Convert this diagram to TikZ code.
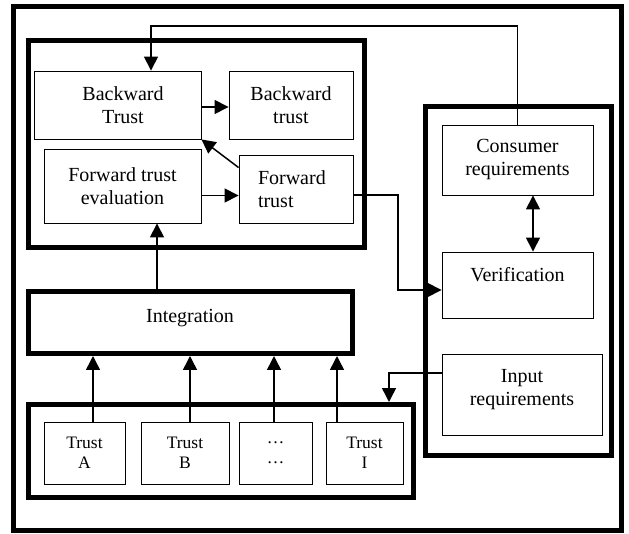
\documentclass[tikz,border=0pt]{standalone}
\usepackage{fontspec}
\setmainfont{Liberation Serif}
\usetikzlibrary{arrows.meta}
\tikzset{
  frame/.style={draw, line width=5pt, inner sep=0pt},
  box/.style={draw, line width=0.9pt, align=center, inner sep=2pt,
              font=\fontsize{20}{23}\selectfont},
  tbox/.style={draw, line width=0.9pt, align=center, inner sep=2pt,
              font=\fontsize{17.5}{20}\selectfont, minimum height=62pt},
  txt/.style={inner sep=0pt, align=center, font=\fontsize{20}{23}\selectfont},
  conn/.style={line width=1.5pt, -{Triangle[length=14pt,width=14pt]}},
  dconn/.style={line width=1.5pt, {Triangle[length=14pt,width=14pt]}-{Triangle[length=14pt,width=14pt]}}
}
\begin{document}
\begin{tikzpicture}[x=1pt,y=-1pt]
\useasboundingbox (0,0) rectangle (629,534);
% frames
\node[frame, minimum width=607.5pt, minimum height=524pt] (outer) at (317.25,268.5) {};
\node[frame, minimum width=336pt, minimum height=206.5pt] (topgrp) at (196.5,144.25) {};
\node[frame, minimum width=186pt, minimum height=348.5pt] (rightgrp) at (518.5,281.25) {};
\node[frame, minimum width=324pt, minimum height=62pt] (integ) at (190.5,322.5) {};
\node[txt, anchor=base] (integtxt) at (190,323) {Integration};
\node[frame, minimum width=384.5pt, minimum height=92.5pt] (trustgrp) at (220.75,450.75) {};
% top group boxes
\node[box, minimum width=167pt, minimum height=68pt] (bT) at (117.5,105) {\hspace*{11pt}Backward\\\hspace*{11pt}Trust};
\node[box, minimum width=124pt, minimum height=68pt] (bt) at (291,105) {Backward\\trust};
\node[box, minimum width=157pt, minimum height=74pt] (fte) at (122.5,186) {Forward trust\\evaluation};
\node[box, align=left, text width=76pt, inner xsep=19pt, minimum height=68pt] (ft) at (296,189) {Forward\\trust};
% right group boxes
\node[box, minimum width=151pt, minimum height=70pt] (cons) at (517.5,160) {Consumer\\requirements};
\node[box, minimum width=151pt, minimum height=66pt] (ver) at (517.5,285) {};
\node[txt, anchor=base] (vertxt) at (517.5,282) {Verification};
\node[box, minimum width=160pt, minimum height=81pt] (inp) at (522,394.5) {};
\node[txt] (inptxt) at (522,389.5) {Input\\requirements};
% trust boxes
\node[tbox, minimum width=81pt] (tA) at (84.5,453) {Trust\\A};
\node[tbox, minimum width=88pt] (tB) at (185,453) {Trust\\B};
\node[tbox, minimum width=73pt] (tD) at (275.5,453) {\dots\\\dots};
\node[tbox, minimum width=77pt] (tI) at (364.5,453) {Trust\\I};
% connectors
\draw[conn] (cons.north) |- (151,26) -- ([xshift=33.5pt]bT.north);
\draw[conn] ([yshift=-2pt]bT.east) -- ([yshift=-2pt]bt.west);
\draw[conn] ([yshift=-13pt]ft.north west) -- (bT.south east);
\draw[conn] ([yshift=-9.5pt]fte.east) coordinate (p4) -- (p4 -| ft.west);
\coordinate (a5) at ([xshift=34.5pt]fte.south);
\draw[conn] (a5 |- integ.north) -- (a5);
\draw[conn] ([xshift=8.5pt]tA.north) coordinate (qa) -- (qa |- integ.south);
\draw[conn] ([xshift=5pt]tB.north) coordinate (qb) -- (qb |- integ.south);
\draw[conn] ([xshift=-1.5pt]tD.north) coordinate (qd) -- (qd |- integ.south);
\draw[conn] ([xshift=-27.5pt]tI.north) coordinate (qi) -- (qi |- integ.south);
\draw[conn] ([yshift=-6pt]ft.east) -| (398,290) -- ([yshift=-5pt]ver.west);
\draw[dconn] ([xshift=15.5pt]cons.south) -- ([xshift=15.5pt]ver.north);
\draw[conn] ([yshift=21.5pt]inp.west) -| ([xshift=168.25pt]trustgrp.north);
\end{tikzpicture}
\end{document}
